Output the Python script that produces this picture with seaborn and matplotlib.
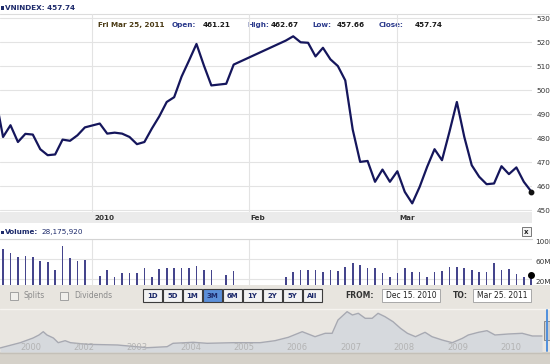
import numpy as np
import pandas as pd
import matplotlib
matplotlib.use('Agg')
import matplotlib.pyplot as plt
from matplotlib.patches import Rectangle
import seaborn as sns

# ---- data ----
dec_days = [15, 16, 17, 20, 21, 22, 23, 24, 27, 28, 29, 30, 31]
jan_days = [4, 5, 6, 7, 10, 11, 12, 13, 14, 17, 18, 19, 20, 21, 24, 25, 27, 28]
feb_days = [8, 9, 10, 11, 14, 15, 16, 17, 18, 21, 22, 23, 24, 25, 28]
mar_days = [1, 2, 3, 4, 7, 8, 9, 10, 11, 14, 15, 16, 17, 18, 21, 22, 23, 24, 25]

close = [497.0, 480.5, 485.4, 478.4, 481.8, 481.5, 475.4, 472.9, 473.2, 479.4, 478.9, 481.2, 484.5,
         486.1, 481.9, 482.3, 481.9, 480.5, 477.5, 478.4, 484.0, 489.1, 495.1, 497.1, 505.7, 512.4,
         519.3, 510.3, 502.0, 502.7, 510.7,
         520.7, 522.5, 520.0, 519.8, 514.1, 517.7, 512.9, 510.1, 504.1, 483.6, 470.1, 470.5, 461.8,
         466.9, 461.8,
         466.2, 457.6, 452.8, 459.7, 468.0, 475.4, 470.8, 482.6, 495.1, 480.5, 468.7, 463.9, 460.8,
         461.1, 468.3, 465.0, 467.8, 461.8, 457.74]

# volume in millions of shares
volume = [60, 79.4, 71.4, 64.6, 66.6, 63.4, 56.6, 54.6, 38, 86.6, 61.4, 56.6, 58,
          26, 38, 24.6, 32.6, 32.6, 32.6, 41.4, 23.4, 39.4, 42.6, 41.4, 41.4, 41.4, 46, 38, 38, 28, 36,
          23.4, 34.6, 38, 38, 38, 34.6, 38, 36.6, 44.6, 52.6, 48, 41.4, 41.4, 31.4, 24.6,
          33, 41.4, 34.6, 34.6, 23.4, 34.6, 36, 44.6, 44.6, 41.4, 38, 34.6, 34.6, 51.4, 38, 39.4,
          30, 23.4, 28.18]

month_starts = ['2011-01-03', '2011-02-01', '2011-03-01']
month_labels = ['2010', 'Feb', 'Mar']
price_ticks = [450, 460, 470, 480, 490, 500, 510, 520, 530]
vol_ticks = [20, 60, 100]
vol_labels = ['20M', '60M', '100M']

# navigator (whole history)
nav_year = [2000.43, 2000.81, 2001.05, 2001.16, 2001.24, 2001.31, 2001.43, 2001.52, 2001.65, 2001.75,
            2002.06, 2002.63, 2003.19, 2003.56, 2003.67, 2004.05, 2004.31, 2004.80, 2005.30, 2005.58,
            2005.83, 2006.09, 2006.33, 2006.52, 2006.65, 2006.76, 2006.93, 2007.03, 2007.14, 2007.27,
            2007.40, 2007.51, 2007.64, 2007.79, 2007.93, 2008.06, 2008.21, 2008.39, 2008.52, 2008.71,
            2008.90, 2009.09, 2009.20, 2009.39, 2009.55, 2009.70, 2009.95, 2010.21, 2010.40, 2010.58]
nav_level = [116, 270, 406, 493, 589, 493, 406, 270, 328, 270,
             223, 203, 125, 154, 252, 281, 252, 270, 270, 328,
             426, 589, 444, 542, 542, 928, 1169, 1073, 1122, 977,
             977, 1122, 1024, 879, 687, 542, 444, 571, 444, 348,
             270, 397, 493, 571, 618, 493, 522, 542, 464, 464]
nav_tick_pos = [2001, 2002, 2003, 2004, 2005, 2006, 2007, 2008, 2009, 2010]
nav_tick_lab = ['2000', '2002', '2003', '2004', '2005', '2006', '2007', '2008', '2009', '2010']

ranges = ['1D', '5D', '1M', '3M', '6M', '1Y', '2Y', '5Y', 'All']

dates = ([f'2010-12-{d:02d}' for d in dec_days] + [f'2011-01-{d:02d}' for d in jan_days] +
         [f'2011-02-{d:02d}' for d in feb_days] + [f'2011-03-{d:02d}' for d in mar_days])
pos = np.busday_count('2010-12-15', dates)          # trading-day axis, weekends removed
mpos = np.busday_count('2010-12-15', month_starts)
df = pd.DataFrame({'pos': pos, 'close': close, 'vol': volume})

sns.set_style('white')
plt.rcParams['font.family'] = ['DejaVu Sans']

W, H = 550, 364
fig = plt.figure(figsize=(5.5, 3.64), dpi=100)

def px_axes(x0, y0, x1, y1):
    return fig.add_axes([x0 / W, 1 - y1 / H, (x1 - x0) / W, (y1 - y0) / H])

navy = '#1d2a6b'
line_c = '#15165c'
grid_c = '#e3e3e3'
XL = (0.59, 72.1)

# background / chrome in pixel coordinates
bg = fig.add_axes([0, 0, 1, 1])
bg.set_xlim(0, W); bg.set_ylim(H, 0); bg.axis('off')
bg.add_patch(Rectangle((0, 285), W, 24, fc='#e8e5df', ec='none'))
bg.add_patch(Rectangle((0, 309), W, 43, fc='#e9e6e1', ec='none'))
bg.plot([0, W], [309, 309], color='#f6f4f0', lw=1)
bg.add_patch(Rectangle((0, 352), W, 12, fc='#d5d1c9', ec='none'))
bg.plot([0, W], [352.5, 352.5], color='#c4c0b8', lw=1)
bg.plot([0, W], [13.5, 13.5], color='#dcdcdc', lw=0.8)

bg.add_patch(Rectangle((0.5, 6), 3.5, 3.5, fc=navy, ec='none'))
bg.text(5, 8, 'VNINDEX: 457.74', fontsize=5.2, fontweight='bold', color=navy, va='center')

info = [(98, 'Fri Mar 25, 2011', '#4a3a14'), (172, 'Open:', '#2b3a8c'), (203, '461.21', '#1a1a1a'),
        (247, 'High:', '#2b3a8c'), (271, '462.67', '#1a1a1a'), (312, 'Low:', '#2b3a8c'),
        (337, '457.66', '#1a1a1a'), (379, 'Close:', '#2b3a8c'), (415, '457.74', '#1a1a1a')]
for x, s, c in info:
    bg.text(x, 25, s, fontsize=5.2, fontweight='bold', color=c, va='center')

bg.add_patch(Rectangle((0.5, 230.5), 3.5, 3.5, fc=navy, ec='none'))
bg.text(5, 232, 'Volume:', fontsize=5.2, fontweight='bold', color=navy, va='center')
bg.text(41, 232, '28,175,920', fontsize=5.2, color=navy, va='center')
bg.add_patch(Rectangle((522, 227), 9, 9, fc='#f4f4f4', ec='#777777', lw=0.7))
bg.text(526.5, 231.5, 'x', fontsize=5, fontweight='bold', color='#222222', ha='center', va='center')

# toolbar
for x, s in [(10, 'Splits'), (60, 'Dividends')]:
    bg.add_patch(Rectangle((x, 291.5), 8, 8, fc='#f0efec', ec='#a0a0a0', lw=0.7))
    bg.text(x + 14, 295.5, s, fontsize=5.5, color='#8a8a8a', va='center')
for i, s in enumerate(ranges):
    x0 = 143 + 20 * i
    fc = '#5b8fd9' if s == '3M' else '#f3f3f3'
    bg.add_patch(Rectangle((x0, 289), 19, 13, fc=fc, ec='#3c3c3c', lw=0.8))
    bg.text(x0 + 9.5, 295.5, s, fontsize=5, fontweight='bold', color=navy, ha='center', va='center')
bg.text(345, 295.5, 'FROM:', fontsize=5.5, fontweight='bold', color='#333333', va='center')
bg.add_patch(Rectangle((382, 289), 58, 13, fc='white', ec='#a8a8a8', lw=0.7))
bg.text(386, 295.5, 'Dec 15. 2010', fontsize=5.5, color='#222222', va='center')
bg.text(453, 295.5, 'TO:', fontsize=5.5, fontweight='bold', color='#333333', va='center')
bg.add_patch(Rectangle((473, 289), 58, 13, fc='white', ec='#a8a8a8', lw=0.7))
bg.text(477, 295.5, 'Mar 25. 2011', fontsize=5.5, color='#222222', va='center')

# main price panel
ax = px_axes(0, 14, 532, 212)
ax.set_facecolor('none')
sns.lineplot(data=df, x='pos', y='close', ax=ax, color=line_c, linewidth=1.6)
ax.plot(df['pos'].iloc[-1], df['close'].iloc[-1], 'o', ms=3.2, color='#111111', clip_on=False)
ax.set_xlim(*XL)
ax.set_ylim(449.2, 531.8)
ax.set_xticks(mpos)
ax.set_xticklabels([])
ax.set_yticks(price_ticks)
ax.yaxis.tick_right()
ax.tick_params(axis='x', length=0, labelbottom=False, labeltop=False)
ax.tick_params(axis='y', length=0, pad=3, labelsize=5.2, labelcolor='#333333')
ax.grid(True, color=grid_c, lw=0.8)
ax.set_xlabel(''); ax.set_ylabel('')
sns.despine(ax=ax, left=True, bottom=True, right=True, top=True)

# date band
ab = px_axes(0, 212, 532, 223)
ab.set_facecolor('#ebebeb')
ab.set_xlim(*XL); ab.set_ylim(0, 1)
ab.set_xticks([]); ab.set_yticks([])
for p, s in zip(mpos, month_labels):
    ab.text(p + 0.3, 0.45, s, fontsize=5.2, fontweight='bold', color='#333333', va='center')
sns.despine(ax=ab, left=True, bottom=True)

# volume panel
av = px_axes(0, 239, 532, 285)
av.set_facecolor('none')
av.bar(df['pos'], df['vol'], width=0.22, color='#45458c', lw=0)
av.plot(df['pos'].iloc[-1], df['vol'].iloc[-1], 'o', ms=4, color='black', clip_on=False)
av.set_xlim(*XL)
av.set_ylim(8, 100)
av.set_xticks(mpos)
av.set_xticklabels([])
av.set_yticks(vol_ticks)
av.set_yticklabels([])
av.tick_params(length=0, labelbottom=False, labelleft=False, labeltop=False)
av.grid(True, color=grid_c, lw=0.8)
for v, s in zip(vol_ticks, vol_labels):
    av.text(1.006, v - 5, s, transform=av.get_yaxis_transform(), fontsize=5.2, color='#333333',
            va='center', clip_on=False)
sns.despine(ax=av, left=True, bottom=True, right=True, top=False)
av.spines['top'].set_color('#d4d4d4')
av.spines['top'].set_linewidth(0.8)

# navigator
an = px_axes(0, 309, 550, 352)
an.set_facecolor('none')
an.fill_between(nav_year, nav_level, color='#d6d9dd', lw=0)
sns.lineplot(x=nav_year, y=nav_level, ax=an, color='#a7a9b2', linewidth=1.0)
an.set_xlim(2000.43, 2010.73)
an.set_ylim(0, 1247)
for t, s in zip(nav_tick_pos, nav_tick_lab):
    an.text(t, 145, s, fontsize=6, color='#b3b3b3', ha='center', va='center')
an.set_xticks([]); an.set_yticks([])
an.set_xlabel(''); an.set_ylabel('')
sns.despine(ax=an, left=True, bottom=True)

bg.plot([546.5, 546.5], [310, 351], color='#4f8fdc', lw=1.4)
bg.add_patch(Rectangle((544, 321), 6, 19, fc='#cdcdcd', ec='#8a8a8a', lw=0.7))
bg.set_zorder(-1)

fig.savefig('out.png', dpi=100, facecolor='white')
